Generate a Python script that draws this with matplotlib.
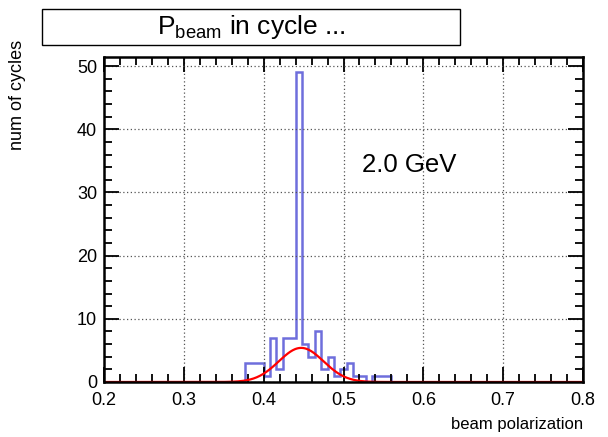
import numpy as np
import matplotlib.pyplot as plt
import matplotlib.patches as mpatches
from matplotlib.ticker import MultipleLocator

plt.rcParams.update({
    "font.family": ["Liberation Sans", "DejaVu Sans"],
    "font.size": 13,
    "mathtext.fontset": "custom",
    "mathtext.rm": "Liberation Sans",
    "mathtext.it": "Liberation Sans:italic",
    "mathtext.bf": "Liberation Sans:bold",
})

# Histogram: 75 bins from 0.2 to 0.8 (width 0.008)
x_min, x_max, n_bins = 0.2, 0.8, 75
first_bin_lo = 0.376
counts_nonzero = [3, 3, 3, 1, 7, 2, 7, 7, 49, 6, 4, 8, 2, 4, 1, 2, 3, 1, 1, 0, 1, 1, 1]

# Gaussian fit parameters
fit_amp = 5.4
fit_mean = 0.447
fit_sigma = 0.028

energy_label = "2.0 GeV"

edges = np.linspace(x_min, x_max, n_bins + 1)
counts = np.zeros(n_bins)
i0 = int(round((first_bin_lo - x_min) / ((x_max - x_min) / n_bins)))
counts[i0:i0 + len(counts_nonzero)] = counts_nonzero

W, H = 608, 437
fig = plt.figure(figsize=(W / 100, H / 100), dpi=100)
ax = fig.add_axes([104 / W, 1 - 382 / H, (583 - 104) / W, (382 - 57) / H])

ax.stairs(counts, edges, color="#6e6edc", linewidth=1.8, baseline=0)
xf = np.linspace(x_min, x_max, 600)
ax.plot(xf, fit_amp * np.exp(-0.5 * ((xf - fit_mean) / fit_sigma) ** 2),
        color="#ff0000", linewidth=1.6)

ax.set_xlim(x_min, x_max)
ax.set_ylim(0, 1.05 * max(counts_nonzero))
ax.xaxis.set_major_locator(MultipleLocator(0.1))
ax.xaxis.set_minor_locator(MultipleLocator(0.02))
ax.yaxis.set_major_locator(MultipleLocator(10))
ax.yaxis.set_minor_locator(MultipleLocator(2))
ax.tick_params(which="both", direction="in", top=True, right=True, width=1.3)
ax.tick_params(which="major", length=11, labelsize=13)
ax.tick_params(axis="x", which="major", pad=7)
ax.tick_params(axis="y", which="major", pad=5)
ax.tick_params(which="minor", length=5.5)
ax.set_xticklabels([f"{v:.1f}" for v in ax.get_xticks()])
ax.grid(True, which="major", linestyle=(0, (1, 2)), color="#555555", linewidth=0.9)
for s in ax.spines.values():
    s.set_linewidth(1.8)

ax.set_xlabel("beam polarization", fontsize=12, ha="right", va="center")
ax.xaxis.set_label_coords(1.0, -(424 - 382) / 325)
ax.set_ylabel("num of cycles", fontsize=13, ha="right", va="center")
ax.yaxis.set_label_coords(-(104 - 18) / 479, (382 - 40) / 325)

ax.text((362 - 104) / 479, (382 - 165) / 325, energy_label, transform=ax.transAxes,
        fontsize=18.5, va="center")

fig.patches.append(mpatches.Rectangle((42 / W, 1 - 45 / H), (460 - 42) / W, 36 / H,
                                      transform=fig.transFigure, facecolor="white",
                                      edgecolor="black", linewidth=1.0))
fig.text(251 / W, 1 - 27 / H, r"P$_{\rm beam}$ in cycle ...", fontsize=19,
         ha="center", va="center")

fig.savefig("out.png", dpi=100)
